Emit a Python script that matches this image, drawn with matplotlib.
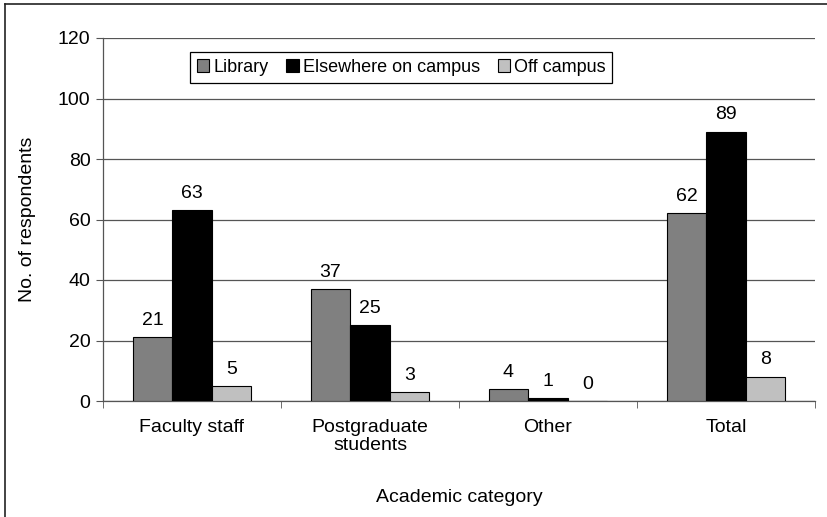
import numpy as np
import matplotlib.pyplot as plt
from matplotlib.lines import Line2D

plt.rcParams['font.family'] = ['Liberation Sans', 'DejaVu Sans']

# data
categories = ["Faculty staff", "Postgraduate\nstudents", "Other", "Total"]
series_names = ["Library", "Elsewhere on campus", "Off campus"]
library = [21, 37, 4, 62]
elsewhere = [63, 25, 1, 89]
off_campus = [5, 3, 0, 8]
colors = ["#808080", "#000000", "#c0c0c0"]

fig = plt.figure(figsize=(8.28, 5.17), dpi=100)
ax = fig.add_axes([103/828, 1 - 401/517, (815 - 103)/828, (401 - 38)/517])

x = np.arange(len(categories))
w = 0.222
for i, (vals, col, name) in enumerate(zip([library, elsewhere, off_campus], colors, series_names)):
    pos = x + (i - 1) * w
    bars = ax.bar(pos, vals, width=w, color=col, edgecolor="black", linewidth=0.8, label=name, zorder=3)
    for b, v in zip(bars, vals):
        ax.annotate(str(v), (b.get_x() + b.get_width()/2, v), xytext=(0, 6),
                    textcoords="offset points", ha="center", va="bottom", fontsize=14)

ax.set_xlim(-0.5, 3.5)
ax.set_ylim(0, 120)
ax.set_yticks(range(0, 121, 20))
ax.yaxis.grid(True, color="#555555", linewidth=0.9, zorder=0)
ax.set_axisbelow(True)

ax.set_xticks(x)
ax.set_xticklabels(categories, fontsize=14, linespacing=1.1)
ax.set_xticks(np.arange(-0.5, 3.6, 1), minor=True)
ax.tick_params(axis="x", which="major", length=0, pad=13)
ax.tick_params(axis="x", which="minor", length=5, direction="out", color="#555555")
ax.tick_params(axis="y", length=5, direction="out", color="#555555", labelsize=14, pad=4)

for s in ["top", "right"]:
    ax.spines[s].set_visible(False)
for s in ["left", "bottom"]:
    ax.spines[s].set_color("#555555")
    ax.spines[s].set_linewidth(0.9)

ax.set_ylabel("No. of respondents", fontsize=14, labelpad=16)
ax.set_xlabel("Academic category", fontsize=14, labelpad=25)

leg = ax.legend(loc="upper left", bbox_to_anchor=(190/828, 1 - 52/517), bbox_transform=fig.transFigure,
                ncol=3, fontsize=13, frameon=True, fancybox=False, edgecolor="black", framealpha=1,
                borderaxespad=0, handlelength=0.7, handleheight=0.7, handletextpad=0.2,
                columnspacing=1.0, borderpad=0.38)
leg.get_frame().set_linewidth(0.9)

# outer chart border
fig.add_artist(Line2D([5/828, 5/828], [0, 1 - 4/517], transform=fig.transFigure, color="#222222", lw=1.2))
fig.add_artist(Line2D([5/828, 1], [1 - 4/517, 1 - 4/517], transform=fig.transFigure, color="#222222", lw=1.2))

fig.savefig("out.png", dpi=100)
